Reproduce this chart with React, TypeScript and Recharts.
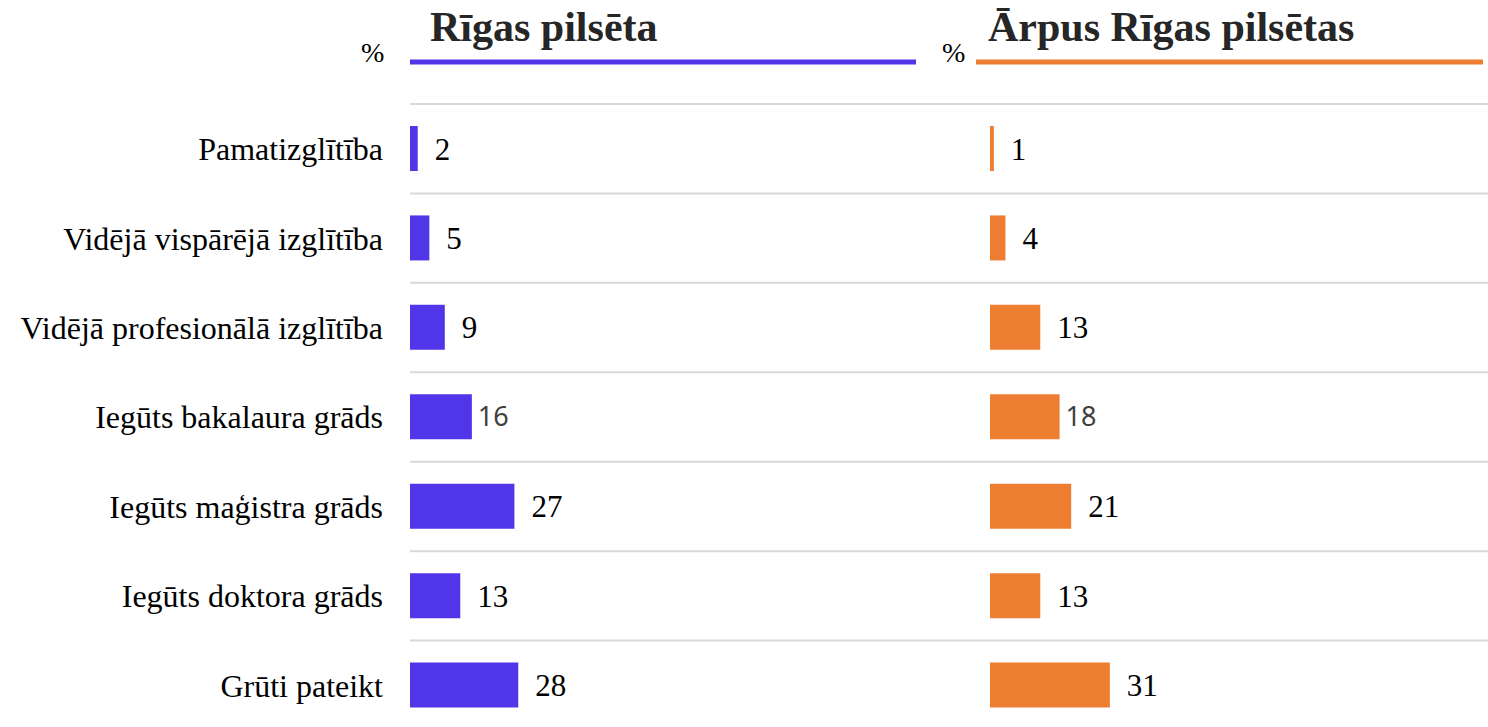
import { Bar, BarChart, CartesianGrid, LabelList, XAxis, YAxis } from "recharts";

const categories = [
  "Pamatizglītība",
  "Vidējā vispārējā izglītība",
  "Vidējā profesionālā izglītība",
  "Iegūts bakalaura grāds",
  "Iegūts maģistra grāds",
  "Iegūts doktora grāds",
  "Grūti pateikt",
];
const rigaValues = [2, 5, 9, 16, 27, 13, 28];
const outsideValues = [1, 4, 13, 18, 21, 13, 31];
const panelTitles = ["Rīgas pilsēta", "Ārpus Rīgas pilsētas"];
const unitLabel = "%";

// rows whose value label is set in a sans face in the source
const sansLabelRows = [3];

const BLUE = "#5135E8";
const ORANGE = "#ED7D31";
const SERIF = '"Liberation Serif", "Times New Roman", serif';
const SANS = '"Noto Sans", "Open Sans", sans-serif';

const data = categories.map((name, i) => ({ name, riga: rigaValues[i], outside: outsideValues[i] }));

const callScale = (s: any, v: any) => (typeof s === "function" ? s(v) : s?.map ? s.map(v) : undefined);

// gridlines sit on the boundaries between category bands
const bandEdges = ({ yAxis }: any) => {
  const s = yAxis?.scale;
  if (!s) return [];
  const bw = typeof s.bandwidth === "function" ? s.bandwidth() : 0;
  const starts = categories.map((c) => callScale(s, c)).filter((v) => typeof v === "number");
  if (!starts.length) return [];
  return [...starts, starts[starts.length - 1] + bw];
};

const ValueLabel = (props: any) => {
  const { index, value } = props;
  const vb = props.viewBox ?? props;
  const sans = sansLabelRows.includes(index);
  return (
    <text
      x={vb.x + vb.width + (sans ? 6 : 17)}
      y={vb.y + vb.height / 2}
      dy="0.355em"
      fontFamily={sans ? SANS : SERIF}
      fontSize={sans ? 27 : 31}
      fill={sans ? "#404040" : "#000"}
    >
      {value}
    </text>
  );
};

function Panel({ dataKey, color, showAxis, width }: { dataKey: string; color: string; showAxis: boolean; width: number }) {
  return (
    <BarChart
      layout="vertical"
      width={width}
      height={730}
      data={data}
      margin={{ top: 104, right: 0, bottom: 0, left: 0 }}
      barSize={45}
    >
      <CartesianGrid vertical={false} stroke="#d9d9d9" strokeWidth={2} horizontalCoordinatesGenerator={bandEdges} />
      <XAxis type="number" domain={[0, 150]} hide />
      <YAxis
        type="category"
        dataKey="name"
        width={showAxis ? 410 : 0}
        hide={!showAxis}
        axisLine={false}
        tickLine={false}
        tickSize={0}
        tickMargin={27}
        interval={0}
        tick={{ fontFamily: SERIF, fontSize: 32, fill: "#000" }}
      />
      <Bar dataKey={dataKey} fill={color} isAnimationActive={false}>
        <LabelList dataKey={dataKey} content={ValueLabel} />
      </Bar>
    </BarChart>
  );
}

export default function App() {
  return (
    <div
      style={{
        position: "absolute",
        left: 0,
        top: 0,
        width: 1488,
        height: 727,
        overflow: "hidden",
        background: "#fff",
      }}
    >
      <div style={{ position: "absolute", left: 0, top: 0 }}>
        <Panel dataKey="riga" color={BLUE} showAxis width={990} />
      </div>
      <div style={{ position: "absolute", left: 990, top: 0 }}>
        <Panel dataKey="outside" color={ORANGE} showAxis={false} width={580} />
      </div>
      <svg width={1488} height={100} style={{ position: "absolute", left: 0, top: 0 }}>
        <text x={361} y={62} fontFamily={SERIF} fontSize={28} fill="#000">{unitLabel}</text>
        <text x={430} y={41} fontFamily={SERIF} fontSize={42} fontWeight="bold" fill="#262626">{panelTitles[0]}</text>
        <rect x={410} y={59.5} width={506} height={5} fill={BLUE} />
        <text x={942} y={62} fontFamily={SERIF} fontSize={28} fill="#000">{unitLabel}</text>
        <text x={988} y={41} fontFamily={SERIF} fontSize={42} fontWeight="bold" fill="#262626">{panelTitles[1]}</text>
        <rect x={976} y={59.5} width={507} height={5} fill={ORANGE} />
      </svg>
    </div>
  );
}
